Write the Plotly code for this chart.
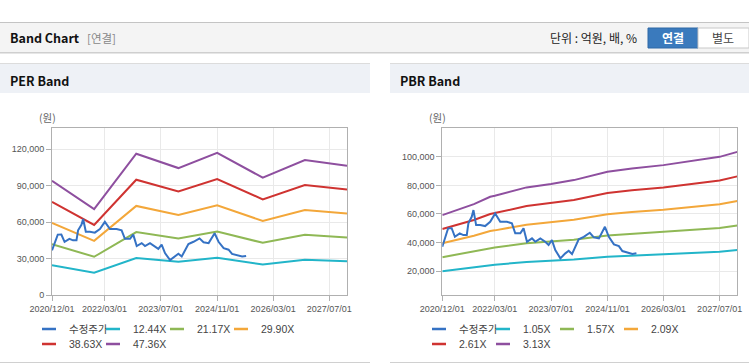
import plotly.graph_objects as go

W, H = 749, 364

# ---------------- data ----------------
price_dates = ["2020-12-01", "2021-01-20", "2021-02-20", "2021-03-20", "2021-05-01", "2021-06-01",
               "2021-07-01", "2021-07-15", "2021-08-13", "2021-08-28", "2021-09-20", "2021-10-25",
               "2021-12-07", "2022-01-20", "2022-03-04", "2022-04-17", "2022-06-14", "2022-07-27",
               "2022-08-25", "2022-10-08", "2022-11-05", "2022-12-05", "2023-01-17", "2023-02-15",
               "2023-03-30", "2023-05-12", "2023-06-10", "2023-07-09", "2023-08-07", "2023-09-20",
               "2023-11-02", "2023-12-01", "2023-12-30", "2024-01-28", "2024-02-26", "2024-04-10",
               "2024-06-01", "2024-07-06", "2024-08-19", "2024-10-10", "2024-11-13", "2024-12-27",
               "2025-02-08", "2025-03-10", "2025-04-22", "2025-06-05", "2025-07-10"]
price_vals = [37000, 49900, 50000, 44000, 46400, 45200,
              45200, 53400, 58000, 62700, 52200, 52200,
              51500, 54500, 60400, 54500, 54500, 53400,
              46400, 46400, 49900, 40500, 42900, 40500,
              42900, 40500, 38200, 41700, 34700, 28900,
              32400, 34200, 31900, 37000, 42200, 44000,
              46800, 43600, 42900, 51000, 44000, 38700,
              37500, 34000, 32800, 31900, 32400]

per_dates = ["2020-12-01", "2021-12-01", "2022-12-01", "2023-12-01", "2024-11-01",
             "2025-12-01", "2026-12-01", "2027-12-01"]
per_names = ["12.44X", "21.17X", "29.90X", "38.63X", "47.36X"]
per_1244 = [24700, 18600, 30600, 27500, 30800, 25400, 29200, 28000]
per_2117 = [42100, 31700, 52000, 46800, 52400, 43200, 49700, 47600]
per_2990 = [59500, 44800, 73500, 66000, 74000, 61100, 70200, 67200]
per_3863 = [76800, 57800, 95000, 85300, 95600, 78900, 90700, 86900]
per_4736 = [94200, 70900, 116400, 104600, 117200, 96700, 111200, 106500]

pbr_dates = ["2020-12-01", "2021-09-01", "2022-01-20", "2022-03-01", "2022-12-01", "2023-07-01",
             "2024-01-15", "2024-11-01", "2025-06-01", "2026-03-01", "2027-07-01", "2027-12-01"]
pbr_names = ["1.05X", "1.57X", "2.09X", "2.61X", "3.13X"]
pbr_105 = [19900, 22400, 24200, 24400, 26400, 27100, 28100, 30000, 30800, 31600, 33500, 34700]
pbr_157 = [29700, 33600, 36100, 36500, 39400, 40600, 42000, 44900, 46100, 47300, 50200, 51900]
pbr_209 = [39500, 44700, 48100, 48500, 52500, 54000, 55900, 59800, 61400, 62900, 66800, 69100]
pbr_261 = [49400, 55800, 60000, 60600, 65500, 67500, 69800, 74600, 76600, 78600, 83400, 86300]
pbr_313 = [59200, 66900, 72000, 72700, 78600, 80900, 83700, 89500, 91900, 94200, 100000, 103500]

x_tickvals = ["2020-12-01", "2022-03-01", "2023-07-01", "2024-11-01", "2026-03-01", "2027-07-01"]
x_ticktext = ["2020/12/01", "2022/03/01", "2023/07/01", "2024/11/01", "2026/03/01", "2027/07/01"]
per_yticks = [0, 30000, 60000, 90000, 120000]
pbr_yticks = [20000, 40000, 60000, 80000, 100000]

price_name = "수정주가"
colors = ["#3572c4", "#22b5c9", "#8fb855", "#f3a73a", "#cf3331", "#8e4f9f"]

# ---------------- figure ----------------
fig = go.Figure()

def px_x(p):
    return p / W

def px_y(p):
    return 1 - p / H

FONT = "Liberation Sans, Noto Sans CJK KR, sans-serif"
KFONT = "Noto Sans CJK KR, sans-serif"

per_series = [per_1244, per_2117, per_2990, per_3863, per_4736]
pbr_series = [pbr_105, pbr_157, pbr_209, pbr_261, pbr_313]


def legend_entry(name, color, xa, ya, leg, rank, group):
    # short line-shaped legend key (the chart's legend uses short 10px keys)
    fig.add_trace(go.Scatter(x=[None], y=[None], name=name, mode="markers",
                             marker=dict(symbol="line-ew", size=10, color=color,
                                         line=dict(color=color, width=2.5)),
                             xaxis=xa, yaxis=ya, legend=leg, legendrank=rank,
                             legendgroup=group, hoverinfo="skip"))


def add_chart(tag, xa, ya, dates, names, series, leg_a, leg_b):
    for i, (nm, vals) in enumerate(zip(names, series)):
        grp = f"{tag}-{nm}"
        fig.add_trace(go.Scatter(x=dates, y=vals, name=nm, mode="lines",
                                 line=dict(color=colors[i + 1], width=2), xaxis=xa, yaxis=ya,
                                 showlegend=False, legendgroup=grp, hoverinfo="skip"))
    grp = f"{tag}-price"
    fig.add_trace(go.Scatter(x=price_dates, y=price_vals, name=price_name, mode="lines",
                             line=dict(color=colors[0], width=2), xaxis=xa, yaxis=ya,
                             showlegend=False, legendgroup=grp))
    legend_entry(price_name, colors[0], xa, ya, leg_a, 1, grp)
    for i, nm in enumerate(names):
        legend_entry(nm, colors[i + 1], xa, ya, leg_a if i < 3 else leg_b, i + 2, f"{tag}-{nm}")
    # blank spacer entries so the last legend label is not clipped
    for leg in (leg_a, leg_b):
        fig.add_trace(go.Scatter(x=[None], y=[None], name=" ", mode="lines",
                                 line=dict(color="rgba(0,0,0,0)", width=0), xaxis=xa, yaxis=ya,
                                 legend=leg, legendrank=99, hoverinfo="skip"))

add_chart("per", "x", "y", per_dates, per_names, per_series, "legend", "legend2")
add_chart("pbr", "x2", "y2", pbr_dates, pbr_names, pbr_series, "legend3", "legend4")

axis_common = dict(showline=True, linecolor="#b0b0b0", linewidth=1, mirror=True,
                   showgrid=True, gridcolor="#e9e9e9", gridwidth=1, zeroline=False,
                   ticks="outside", ticklen=5, tickcolor="#b0b0b0", automargin=False,
                   tickfont=dict(family=FONT, size=9, color="#555555"))

L1, R1 = 52, 347
L2, R2 = 442.3, 737.3
TOP, BOT = 128.3, 295.3

fig.update_layout(
    template="none",
    xaxis=dict(domain=[px_x(L1), px_x(R1)], anchor="y", type="date",
               range=["2020-12-01", "2027-12-01"], tickvals=x_tickvals, ticktext=x_ticktext,
               **axis_common),
    yaxis=dict(domain=[px_y(BOT), px_y(TOP)], anchor="x", range=[0, 137300],
               tickvals=per_yticks, tickformat=",d", **axis_common),
    xaxis2=dict(domain=[px_x(L2), px_x(R2)], anchor="y2", type="date",
                range=["2020-12-01", "2027-12-01"], tickvals=x_tickvals, ticktext=x_ticktext,
                **axis_common),
    yaxis2=dict(domain=[px_y(BOT), px_y(TOP)], anchor="x2", range=[3000, 120000],
                tickvals=pbr_yticks, tickformat=",d", **axis_common),
)

leg_common = dict(orientation="h", xanchor="left", yanchor="middle", entrywidth=19,
                  entrywidthmode="pixels", bgcolor="rgba(0,0,0,0)", borderwidth=0,
                  traceorder="normal", itemclick="toggle", groupclick="togglegroup",
                  font=dict(family=FONT, size=10.5, color="#444444"), tracegroupgap=0)
fig.update_layout(
    showlegend=True,
    legend=dict(x=px_x(29), y=px_y(329), **leg_common),
    legend2=dict(x=px_x(29), y=px_y(344), **leg_common),
    legend3=dict(x=px_x(419), y=px_y(329), **leg_common),
    legend4=dict(x=px_x(419), y=px_y(344), **leg_common),
)

shapes = []
def rect(x0, y0, x1, y1, fill, line=None, lw=1):
    shapes.append(dict(type="rect", xref="paper", yref="paper",
                       x0=px_x(x0), x1=px_x(x1), y0=px_y(y1), y1=px_y(y0),
                       fillcolor=fill, line=dict(color=line or fill, width=lw if line else 0),
                       layer="below"))

def hline(x0, x1, y, color, lw=1):
    shapes.append(dict(type="line", xref="paper", yref="paper",
                       x0=px_x(x0), x1=px_x(x1), y0=px_y(y), y1=px_y(y),
                       line=dict(color=color, width=lw), layer="below"))

# header bar
rect(0, 22, W, 53, "#f4f4f4")
hline(0, W, 22.5, "#c4c4c4")
hline(0, W, 52.5, "#cfcfcf")
hline(0, W, 53.5, "#e6e6e6")
# buttons
rect(648, 28, 698, 48, "#3a7abd", "#2f68a6")
rect(698, 28, 749, 48, "#ffffff", "#c8c8c8")
# panel headers
rect(0, 64, 370, 93, "#eef1f6")
rect(390, 64, W, 93, "#eef1f6")
hline(0, 370, 63.5, "#dcdcdc")
hline(390, W, 63.5, "#dcdcdc")
# panel bottoms
hline(0, 370, 362.5, "#d0d0d0")
hline(390, W, 362.5, "#d0d0d0")
fig.update_layout(shapes=shapes)

ann = []
def text(x, y, s, size=12, color="#222", bold=False, anchor="left", family=KFONT):
    ann.append(dict(x=px_x(x), y=px_y(y), xref="paper", yref="paper", text=(f"<b>{s}</b>" if bold else s),
                    showarrow=False, xanchor=anchor, yanchor="middle",
                    font=dict(family=family, size=size, color=color)))

text(8, 38, "Band Chart", 12.5, "#111111", True)
text(85, 38, "[연결]", 11.5, "#888888")
text(548, 38, "단위 : 억원, 배, %", 12, "#222222")
text(673, 38, "연결", 12, "#ffffff", True, "center")
text(723, 38, "별도", 12, "#444444", False, "center")
text(8, 80, "PER Band", 12.5, "#111111", True)
text(398, 80, "PBR Band", 12.5, "#111111", True)
text(47, 118, "(원)", 10.5, "#666666", False, "center")
text(437, 118, "(원)", 10.5, "#666666", False, "center")
fig.update_layout(annotations=ann)

fig.update_layout(width=W, height=H,
                  margin=dict(l=0, r=0, t=0, b=0, pad=0, autoexpand=False),
                  paper_bgcolor="#ffffff", plot_bgcolor="#ffffff", hovermode="closest")

fig.write_html("out.html", config={"displayModeBar": False},
               post_script="document.body.style.margin='0';document.body.style.padding='0';"
                           "document.body.style.overflow='hidden';")
